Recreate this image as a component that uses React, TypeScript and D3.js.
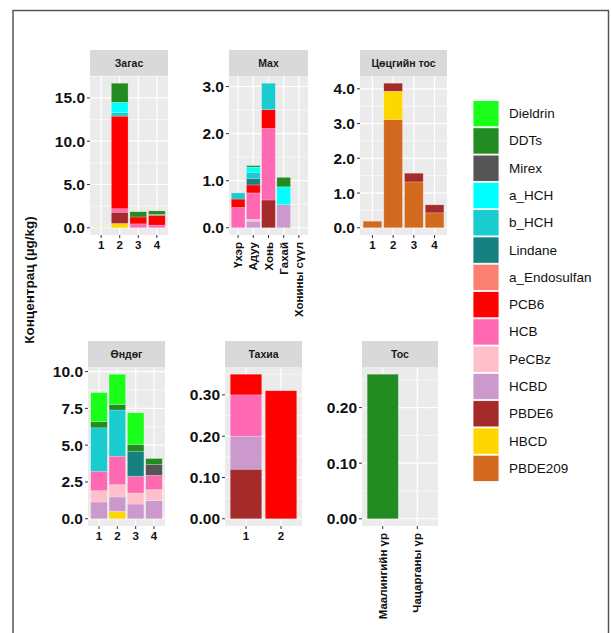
import React from "react";
import * as d3 from "d3";

// substances, top of legend first (top of stack)
const substances = [
  "Dieldrin", "DDTs", "Mirex", "a_HCH", "b_HCH", "Lindane", "a_Endosulfan",
  "PCB6", "HCB", "PeCBz", "HCBD", "PBDE6", "HBCD", "PBDE209",
];
const substanceColors = [
  "#1AFF1A", "#228B22", "#555555", "#00FFFF", "#19CCD0", "#178080", "#FA8072",
  "#FF0000", "#FF69B4", "#FFC0CB", "#CC99CC", "#A52A2A", "#FFD700", "#D2691E",
];

type Row = { cat: string; [k: string]: number | string };

const fishCats = ["1", "2", "3", "4"];
const fishRows: Row[] = [
  { cat: "1", HBCD: 0.04 },
  { cat: "2", HBCD: 0.5, PBDE6: 1.3, HCB: 0.4, PCB6: 10.7, b_HCH: 0.4, a_HCH: 1.2, DDTs: 2.2 },
  { cat: "3", HCB: 0.45, PCB6: 0.8, DDTs: 0.6 },
  { cat: "4", HCB: 0.3, PCB6: 1.15, b_HCH: 0.1, DDTs: 0.4 },
];

const meatCats = ["Үхэр", "Адуу", "Хонь", "Гахай", "Хонины сүүл"];
const meatRows: Row[] = [
  { cat: "Үхэр", HCB: 0.43, PCB6: 0.18, b_HCH: 0.13 },
  { cat: "Адуу", HCBD: 0.14, PeCBz: 0.04, HCB: 0.56, PCB6: 0.17, Lindane: 0.14, b_HCH: 0.13, a_HCH: 0.11, DDTs: 0.03 },
  { cat: "Хонь", PBDE6: 0.59, HCB: 1.52, PCB6: 0.4, b_HCH: 0.56 },
  { cat: "Гахай", HCBD: 0.49, a_HCH: 0.38, DDTs: 0.2 },
  { cat: "Хонины сүүл" },
];

const butterCats = ["1", "2", "3", "4"];
const butterRows: Row[] = [
  { cat: "1", PBDE209: 0.19 },
  { cat: "2", PBDE209: 3.11, HBCD: 0.82, PBDE6: 0.23 },
  { cat: "3", PBDE209: 1.32, PBDE6: 0.25 },
  { cat: "4", PBDE209: 0.43, PBDE6: 0.23 },
];

const eggCats = ["1", "2", "3", "4"];
const eggRows: Row[] = [
  { cat: "1", HCBD: 1.14, PeCBz: 0.77, HCB: 1.32, b_HCH: 2.95, DDTs: 0.41, Dieldrin: 1.98 },
  { cat: "2", HBCD: 0.5, HCBD: 0.98, PeCBz: 0.84, HCB: 1.93, b_HCH: 3.14, DDTs: 0.38, Dieldrin: 2.05 },
  { cat: "3", HCBD: 1.0, PeCBz: 0.75, HCB: 1.14, Lindane: 1.7, DDTs: 0.46, Dieldrin: 2.15 },
  { cat: "4", HCBD: 1.23, PeCBz: 0.75, HCB: 0.97, Mirex: 0.73, DDTs: 0.41 },
];

const chickenCats = ["1", "2"];
const chickenRows: Row[] = [
  { cat: "1", PBDE6: 0.12, HCBD: 0.08, HCB: 0.1, PCB6: 0.05 },
  { cat: "2", PCB6: 0.31 },
];

const oilCats = ["Маалингийн үр", "Чацарганы үр"];
const oilRows: Row[] = [
  { cat: "Маалингийн үр", DDTs: 0.26 },
  { cat: "Чацарганы үр" },
];

const fishTicks = [0, 5, 10, 15];
const meatTicks = [0, 1, 2, 3];
const butterTicks = [0, 1, 2, 3, 4];
const eggTicks = [0, 2.5, 5, 7.5, 10];
const chickenTicks = [0, 0.1, 0.2, 0.3];
const oilTicks = [0, 0.1, 0.2];

const FONT = "'Liberation Sans', Arial, sans-serif";
const color = d3.scaleOrdinal<string, string>().domain(substances).range(substanceColors);
const stackKeys = substances.slice().reverse();

interface PanelProps {
  title: string;
  cats: string[];
  rows: Row[];
  ticks: number[];
  fmt: string;
  x0: number;
  x1: number;
  top: number;
  rotate?: boolean;
}

const Panel: React.FC<PanelProps> = ({ title, cats, rows, ticks, fmt, x0, x1, top, rotate }) => {
  const stripH = 26;
  const plotTop = top + stripH;
  const plotBottom = plotTop + 159;
  const series = d3.stack<Row>().keys(stackKeys).value((d, k) => (d[k] as number) || 0)(rows);
  const maxV = d3.max(series, (s) => d3.max(s, (d) => d[1])) || 1;
  const y = d3.scaleLinear().domain([-0.05 * maxV, 1.05 * maxV]).range([plotBottom, plotTop]);
  const x = d3.scaleBand().domain(cats).range([x0, x1]).paddingInner(0.1).paddingOuter(0.15);
  const f = d3.format(fmt);
  const step = ticks[1] - ticks[0];
  const minor = ticks.map((t) => t + step / 2).filter((t) => t < y.domain()[1]);

  return (
    <g>
      <rect x={x0} y={top} width={x1 - x0} height={stripH} fill="#D9D9D9" />
      <text x={(x0 + x1) / 2} y={top + stripH / 2 + 4} textAnchor="middle" fontSize={10.5} fontWeight="bold" fill="#1A1A1A">
        {title}
      </text>
      <rect x={x0} y={plotTop} width={x1 - x0} height={plotBottom - plotTop} fill="#EBEBEB" />
      {minor.map((t) => (
        <line key={"m" + t} x1={x0} x2={x1} y1={y(t)} y2={y(t)} stroke="#fff" strokeWidth={0.6} />
      ))}
      {ticks.map((t) => (
        <line key={"g" + t} x1={x0} x2={x1} y1={y(t)} y2={y(t)} stroke="#fff" strokeWidth={1.2} />
      ))}
      {cats.map((c) => (
        <line key={"v" + c} x1={x(c)! + x.bandwidth() / 2} x2={x(c)! + x.bandwidth() / 2} y1={plotTop} y2={plotBottom} stroke="#fff" strokeWidth={1.2} />
      ))}
      {series.map((s) =>
        s.map((d, i) =>
          d[1] - d[0] > 0 ? (
            <rect
              key={s.key + i}
              x={x(d.data.cat as string)}
              width={x.bandwidth()}
              y={y(d[1])}
              height={y(d[0]) - y(d[1])}
              fill={color(s.key)}
              stroke="#fff"
              strokeOpacity={0.35}
              strokeWidth={0.6}
            />
          ) : null
        )
      )}
      {ticks.map((t) => (
        <g key={"t" + t}>
          <line x1={x0 - 3} x2={x0} y1={y(t)} y2={y(t)} stroke="#333" strokeWidth={1} />
          <text x={x0 - 5} y={y(t) + 5.5} textAnchor="end" fontSize={15.5} fontWeight="bold" fill="#111">
            {f(t)}
          </text>
        </g>
      ))}
      {cats.map((c) => {
        const cx = x(c)! + x.bandwidth() / 2;
        return (
          <g key={"x" + c}>
            <line x1={cx} x2={cx} y1={plotBottom} y2={plotBottom + 3} stroke="#333" strokeWidth={1} />
            {rotate ? (
              <text transform={`translate(${cx + 4},${plotBottom + 7}) rotate(-90)`} textAnchor="end" fontSize={11.5} fontWeight="bold" fill="#111">
                {c}
              </text>
            ) : (
              <text x={cx} y={plotBottom + 14} textAnchor="middle" fontSize={11.5} fontWeight="bold" fill="#111">
                {c}
              </text>
            )}
          </g>
        );
      })}
    </g>
  );
};

const App: React.FC = () => {
  const legendY = d3.scaleBand().domain(substances).range([100, 482]);
  return (
    <svg width={611} height={633} style={{ position: "absolute", left: 0, top: 0, fontFamily: FONT }}>
      <rect x={0} y={0} width={611} height={633} fill="#fff" />
      <rect x={13} y={10.5} width={595.5} height={640} fill="none" stroke="#555" strokeWidth={1.5} />

      <Panel title="Загас" cats={fishCats} rows={fishRows} ticks={fishTicks} fmt=".1f" x0={90} x1={168} top={50} />
      <Panel title="Мах" cats={meatCats} rows={meatRows} ticks={meatTicks} fmt=".1f" x0={229} x1={308} top={50} rotate />
      <Panel title="Цөцгийн тос" cats={butterCats} rows={butterRows} ticks={butterTicks} fmt=".1f" x0={360} x1={447} top={50} />
      <Panel title="Өндөг" cats={eggCats} rows={eggRows} ticks={eggTicks} fmt=".1f" x0={88} x1={165} top={341} />
      <Panel title="Тахиа" cats={chickenCats} rows={chickenRows} ticks={chickenTicks} fmt=".2f" x0={225} x1={302} top={341} />
      <Panel title="Тос" cats={oilCats} rows={oilRows} ticks={oilTicks} fmt=".2f" x0={362} x1={438} top={341} rotate />

      <text transform="translate(34,280) rotate(-90)" textAnchor="middle" fontSize={13.5} fontWeight="bold" fill="#111">
        Концентрац (µg/kg)
      </text>

      {substances.map((s) => (
        <g key={s}>
          <rect x={473} y={legendY(s)! + 0.5} width={26} height={legendY.bandwidth() - 1} fill={color(s)} stroke="#fff" strokeWidth={0.8} />
          <text x={509} y={legendY(s)! + legendY.bandwidth() / 2 + 4.5} fontSize={13.5} fill="#111">
            {s}
          </text>
        </g>
      ))}
    </svg>
  );
};

export default App;
